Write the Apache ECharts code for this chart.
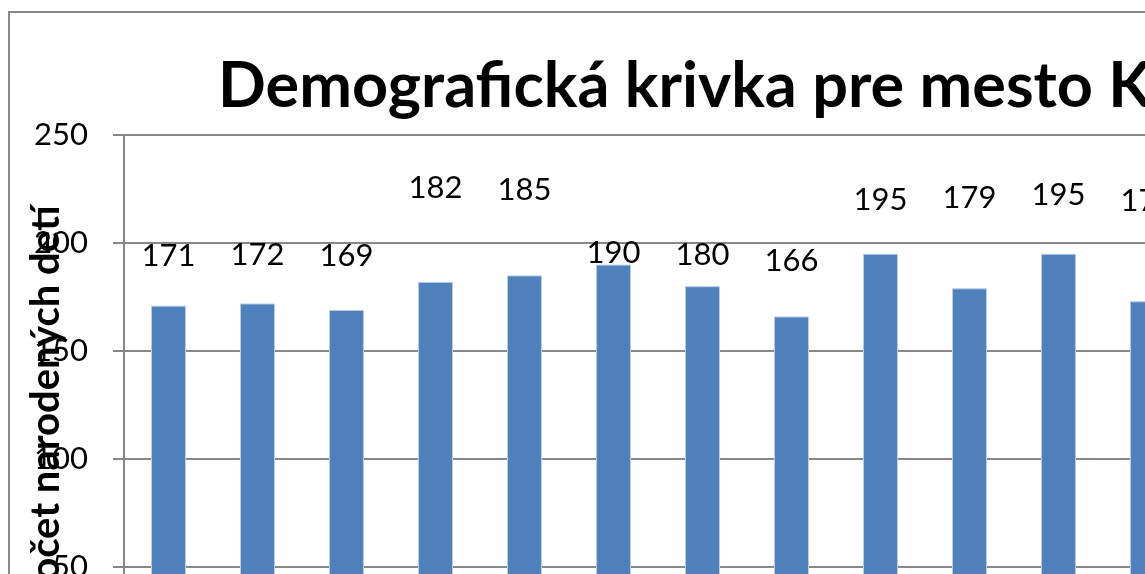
<!DOCTYPE html>
<html>
<head>
<meta charset="utf-8">
<script src="https://cdn.jsdelivr.net/npm/echarts@6/dist/echarts.min.js"></script>
<style>
  html, body { margin: 0; padding: 0; background: #fff; }
  #chart { width: 1145px; height: 574px; }
</style>
</head>
<body>
<div id="chart"></div>
<script>
const titleText = "Demografická krivka pre mesto Kežmarok";
const yAxisTitle = "Počet narodených detí";
const years = ["2000", "2001", "2002", "2003", "2004", "2005", "2006", "2007", "2008", "2009", "2010", "2011"];
const births = [171, 172, 169, 182, 185, 190, 180, 166, 195, 179, 195, 173];
const yMin = 0, yMax = 250, yStep = 50;
// labels were dragged by hand in the original, so each one gets its own shift (px)
const labelLift = [-29, -28, -33, -73, -65, 9, -11, -35, -33, -70, -38, -80];

const font = "Lato, 'Open Sans', sans-serif";
const gray = "#878787";

const chart = echarts.init(document.getElementById("chart"));
chart.setOption({
  animation: false,
  graphic: [{
    type: "rect",
    shape: { x: 9, y: 12, width: 1400, height: 900 },
    style: { fill: null, stroke: gray, lineWidth: 2 },
    z: -1
  }],
  title: {
    text: titleText,
    left: 218,
    top: 55,
    padding: 0,
    textStyle: { fontFamily: font, fontWeight: "bold", fontSize: 63, color: "#000" }
  },
  grid: { left: 124, top: 135, width: 12 * 89, height: 540, outerBoundsMode: "none" },
  xAxis: {
    type: "category",
    data: years,
    axisLine: { lineStyle: { color: gray, width: 2 } },
    axisTick: { show: false },
    axisLabel: { fontFamily: font, fontSize: 31, color: "#000" }
  },
  yAxis: {
    type: "value",
    min: yMin,
    max: yMax,
    interval: yStep,
    name: yAxisTitle,
    nameLocation: "middle",
    nameGap: 60,
    nameMoveOverlap: false,
    nameTextStyle: {
      fontFamily: font, fontWeight: "bold", fontSize: 40, color: "#000",
      backgroundColor: "#fff", lineHeight: 36, padding: 0
    },
    axisLine: { show: true, lineStyle: { color: gray, width: 2 } },
    axisTick: { show: true, length: 11, lineStyle: { color: gray, width: 2 } },
    splitLine: { lineStyle: { color: gray, width: 2 } },
    axisLabel: { fontFamily: font, fontSize: 31, color: "#000", margin: 36 }
  },
  series: [{
    type: "bar",
    barWidth: 35,
    itemStyle: { color: "#4f81bd", borderColor: "#b9cde5", borderWidth: 1 },
    label: {
      show: true,
      position: "top",
      fontFamily: font,
      fontSize: 31,
      color: "#000"
    },
    data: births.map((v, i) => ({ value: v, label: { offset: [0, labelLift[i]] } }))
  }]
});
</script>
</body>
</html>
